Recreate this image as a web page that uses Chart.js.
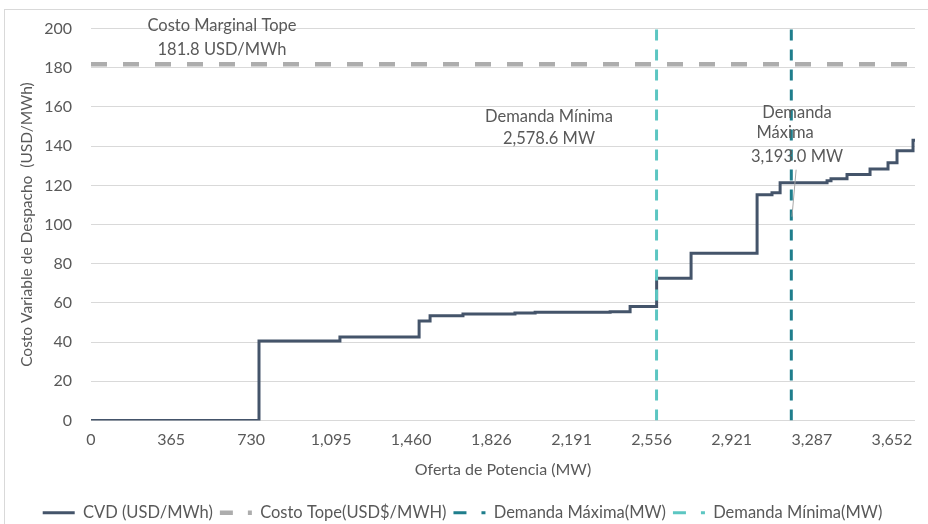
<!DOCTYPE html>
<html>
<head>
<meta charset="utf-8">
<script src="https://cdn.jsdelivr.net/npm/chart.js@4.4.0/dist/chart.umd.min.js"></script>
<style>
  body { margin: 0; background: #fff; }
  #wrap { position: relative; width: 928px; height: 524px; }
</style>
</head>
<body>
<div id="wrap"><canvas id="cvdChart"></canvas></div>
<script>
// oferta acumulada (MW) donde cambia el CVD, y el nuevo CVD (USD/MWh)
const ofertaMW = [0, 766, 1135, 1496, 1546, 1696, 1933, 2025, 2148, 2367, 2458, 2579, 2736, 3037, 3105, 3142, 3356, 3374, 3447, 3552, 3634, 3675, 3748, 3757];
const cvdUSD = [0, 40.6, 42.6, 50.8, 53.5, 54.3, 54.8, 55.2, 55.3, 55.5, 58.2, 72.6, 85.3, 115.2, 116.2, 121.3, 122.3, 123.4, 125.5, 128.4, 131.5, 137.6, 143.0, 143.0];
const costoTope = 181.8;
const demandaMinima = 2578.6;
const demandaMaxima = 3193.0;
const xTicks = [0, 365, 730, 1095, 1460, 1826, 2191, 2556, 2921, 3287, 3652];
const yTicks = [0, 20, 40, 60, 80, 100, 120, 140, 160, 180, 200];
const xMax = 3757;

const fmt = (v, d) => v.toLocaleString('en-US', {minimumFractionDigits: d, maximumFractionDigits: d});
const textColor = '#595959';
const fontFamily = 'Lato, "Open Sans", sans-serif';

// textos sobre el grafico (posicion en unidades de datos)
const notes = [
    {x: 597, y: 201.5, text: 'Costo Marginal Tope'},
    {x: 597, y: 189.3, text: fmt(costoTope, 1) + ' USD/MWh'},
    {x: 2088, y: 154.8, text: 'Demanda Mínima'},
    {x: 2088, y: 143.8, text: fmt(demandaMinima, 1) + ' MW'},
    {x: 3219, y: 156.9, text: 'Demanda'},
    {x: 3165, y: 146.7, text: 'Máxima'},
    {x: 3219, y: 134.8, text: fmt(demandaMaxima, 1) + ' MW'}
];

const notesPlugin = {
    id: 'notes',
    beforeDraw(chart) {
        const ctx = chart.ctx;
        ctx.save();
        ctx.strokeStyle = '#D9D9D9';
        ctx.lineWidth = 1;
        ctx.strokeRect(4.5, 9.5, 1000, 1000);
        ctx.restore();
    },
    afterDraw(chart) {
        const ctx = chart.ctx;
        const xs = chart.scales.x, ys = chart.scales.y;
        ctx.save();
        // linea guia de la etiqueta de demanda maxima
        ctx.strokeStyle = '#A6A6A6';
        ctx.lineWidth = 1;
        ctx.beginPath();
        ctx.moveTo(xs.getPixelForValue(3215), ys.getPixelForValue(128));
        ctx.lineTo(xs.getPixelForValue(3196), ys.getPixelForValue(104));
        ctx.stroke();

        ctx.fillStyle = textColor;
        ctx.font = '16.5px ' + fontFamily;
        ctx.textAlign = 'center';
        ctx.textBaseline = 'middle';
        notes.forEach(n => {
            ctx.fillText(n.text, xs.getPixelForValue(n.x), ys.getPixelForValue(n.y));
        });
        ctx.restore();
    }
};

const ctx = document.getElementById('cvdChart').getContext('2d');
const chart = new Chart(ctx, {
    type: 'line',
    data: {
        datasets: [{
            label: 'CVD (USD/MWh)',
            data: ofertaMW.map((x, i) => ({x: x, y: cvdUSD[i]})),
            borderColor: '#44546A',
            backgroundColor: '#44546A',
            borderWidth: 3,
            stepped: 'before',
            pointRadius: 0,
            order: 4
        }, {
            label: 'Costo Tope(USD$/MWH)',
            data: [{x: 0, y: costoTope}, {x: xMax, y: costoTope}],
            borderColor: '#ADADAD',
            backgroundColor: '#ADADAD',
            borderWidth: 4.5,
            borderDash: [16, 16],
            pointRadius: 0,
            order: 3
        }, {
            label: 'Demanda Máxima(MW)',
            data: [{x: demandaMaxima, y: 0}, {x: demandaMaxima, y: 200}],
            borderColor: '#1F7E8C',
            backgroundColor: '#1F7E8C',
            borderWidth: 3,
            borderDash: [11, 9],
            pointRadius: 0,
            order: 2
        }, {
            label: 'Demanda Mínima(MW)',
            data: [{x: demandaMinima, y: 0}, {x: demandaMinima, y: 200}],
            borderColor: '#5CC6C2',
            backgroundColor: '#5CC6C2',
            borderWidth: 3,
            borderDash: [11, 9],
            pointRadius: 0,
            order: 1
        }]
    },
    options: {
        responsive: true,
        maintainAspectRatio: false,
        animation: false,
        layout: {
            padding: {top: 27, right: 13, left: 10, bottom: -7}
        },
        plugins: {
            tooltip: {enabled: false},
            legend: {
                position: 'bottom',
                labels: {
                    color: textColor,
                    font: {family: fontFamily, size: 16.5},
                    usePointStyle: true,
                    pointStyle: 'line',
                    pointStyleWidth: 32,
                    boxHeight: 10,
                    padding: 7,
                    sort: (a, b) => a.datasetIndex - b.datasetIndex,
                    generateLabels(chart) {
                        const items = Chart.defaults.plugins.legend.labels.generateLabels(chart);
                        items.forEach(it => {
                            if (it.datasetIndex > 0) it.lineDash = [13, 15];
                        });
                        return items;
                    }
                }
            }
        },
        scales: {
            x: {
                type: 'linear',
                min: 0,
                max: xMax,
                afterBuildTicks: scale => {
                    scale.ticks = xTicks.map(v => ({value: v}));
                },
                afterFit: scale => {
                    scale.height = 77;
                },
                grid: {display: false, drawTicks: false},
                border: {display: false},
                ticks: {
                    autoSkip: false,
                    maxRotation: 0,
                    color: textColor,
                    font: {family: fontFamily, size: 16},
                    padding: 10,
                    callback: v => fmt(v, 0)
                },
                title: {
                    display: true,
                    text: 'Oferta de Potencia (MW)',
                    color: textColor,
                    font: {family: fontFamily, size: 16},
                    padding: {top: 8, bottom: 18}
                }
            },
            y: {
                min: 0,
                max: 200,
                afterBuildTicks: scale => {
                    scale.ticks = yTicks.map(v => ({value: v}));
                },
                afterFit: scale => {
                    scale.width = 81;
                },
                grid: {color: '#D9D9D9', lineWidth: 1, drawTicks: false},
                border: {display: false},
                ticks: {
                    color: textColor,
                    font: {family: fontFamily, size: 16},
                    padding: 19
                },
                title: {
                    display: true,
                    text: 'Costo Variable de Despacho  (USD/MWh)',
                    color: textColor,
                    font: {family: fontFamily, size: 15.5},
                    padding: {top: 8, bottom: 0}
                }
            }
        }
    },
    plugins: [notesPlugin]
});
</script>
</body>
</html>
